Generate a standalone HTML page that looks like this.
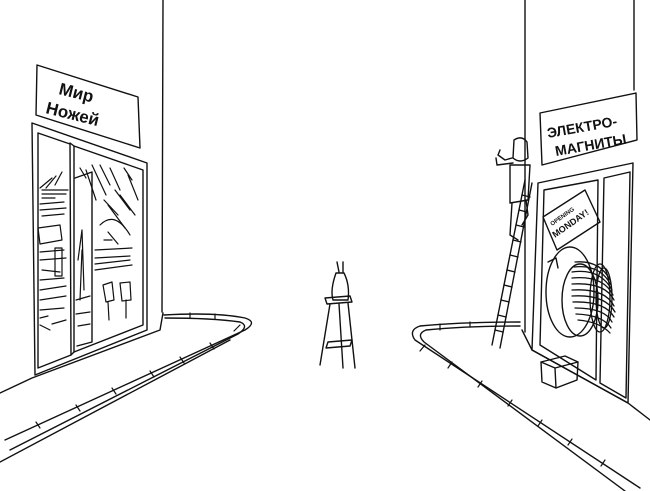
<!DOCTYPE html>
<html><head><meta charset="utf-8"><style>
html,body{margin:0;padding:0;background:#fff;width:650px;height:491px;overflow:hidden}
svg{display:block}
text{font-family:"Liberation Sans","DejaVu Sans",sans-serif;font-weight:bold;fill:#111}
</style></head><body>
<svg width="650" height="491" viewBox="0 0 650 491" xmlns="http://www.w3.org/2000/svg" fill="none" stroke="#111" stroke-width="1.4" stroke-linecap="round" stroke-linejoin="round">
<path d="M163 0 L162 312"/>
<path d="M0 393 L32 378 L160 330 L163 313"/>
<path d="M37 65 L138 97 L140 148 L36 115 Z"/>
<text x="58" y="94" font-size="17" stroke="none" transform="rotate(14 58 94)">Мир</text>
<text x="45" y="113" font-size="17" stroke="none" transform="rotate(14 45 113)">Ножей</text>
<path d="M32 123 L147 163 L147 330 L35 375 Z"/>
<path d="M38 133 L70 144 L71 355 L38 368 Z"/>
<path d="M74 146 L143 170 L143 325 L74 352 Z"/>
<path d="M70 143 L74 146 M71 355 L74 352"/>
<path d="M75 178 L92 172 L92 342 L77 346"/>
<g stroke-width="1.2">
<path d="M40 188 L52 178 M46 188 L56 176 M55 185 L62 172"/>
<path d="M42 190 L68 190 M42 198 L55 198 M42 194 L66 194"/>
<path d="M40 210 L66 208 M42 216 L64 214 M40 204 L64 202"/>
<path d="M38 228 L60 225 L62 240 L40 244 Z"/>
<path d="M40 260 L66 258 M42 270 L60 272 M40 252 L64 250"/>
<path d="M55 248 L55 276 L62 276 L62 248 Z"/>
<path d="M40 290 L66 286 M40 300 L66 296 M40 310 L64 308 M40 280 L64 278"/>
<path d="M40 325 L50 330 M52 324 L66 320 M40 318 L48 316"/>
<path d="M80 168 L86 178 M92 165 L106 195 M100 165 L110 185 M110 168 L120 190 M124 168 L132 180 M128 175 L138 200 M86 170 L96 200"/>
<path d="M115 190 L130 210 M120 195 L135 215 M108 205 L125 228 M104 200 L118 215"/>
<path d="M100 225 Q115 210 130 235 M104 240 L112 240 M108 232 L118 244"/>
<path d="M95 250 L132 248 M95 258 L130 256 M95 270 L132 265 M95 264 L130 260"/>
<path d="M78 260 L82 230 L84 290 M80 300 L82 250"/>
<path d="M103 285 L112 282 L114 300 L106 302 Z M120 283 L130 282 L131 300 L122 301 Z M108 302 L109 320 M126 300 L126 318"/>
<path d="M76 300 L90 296 M76 314 L90 312 M78 326 L90 324"/>
</g>
<!-- left curb -->
<path d="M164 315 Q215 312 245 318 Q258 322 245 330 L5 440"/>
<path d="M165 318 Q212 318 240 322 Q250 326 238 334 L10 450"/>
<path d="M0 462 L230 340"/>
<g stroke-width="1.2">
<path d="M190 313 L190 318 M215 314 L215 319 M240 325 L234 331 M210 343 L214 349 M180 357 L184 363 M150 371 L154 377 M112 388 L116 394 M76 405 L80 411 M36 422 L40 428"/>
</g>
<!-- RIGHT BUILDING -->
<path d="M525 0 L525 332"/>
<path d="M634 0 L634 90"/>
<path d="M522 330 L532 350 L628 403 L650 420"/>
<path d="M540 113 L636 93 L637 140 L542 165 Z"/>
<text x="548" y="138" font-size="14" stroke="none" transform="rotate(-10 548 138)">ЭЛЕКТРО-</text>
<text x="556" y="156" font-size="14" stroke="none" transform="rotate(-10 556 156)">МАГНИТЫ</text>
<path d="M538 183 L633 163 L628 403 L532 350 Z"/>
<path d="M544 190 L598 180 L596 380 L540 345 Z"/>
<path d="M604 178 L630 172 L626 398 L600 383 Z"/>
<path d="M543 217 L585 190 L600 222 L557 250 Z"/>
<text x="555" y="238" font-size="9" stroke="none" transform="rotate(-35 555 238)">MONDAY!</text>
<text x="552" y="226" font-size="6" stroke="none" transform="rotate(-35 552 226)">OPENING</text>
<ellipse cx="570" cy="292" rx="24" ry="45"/>
<ellipse cx="580" cy="300" rx="18" ry="36"/>
<g stroke-width="1.3">
<path d="M575 262 Q600 260 610 280 M572 272 Q600 268 612 290 M572 284 Q605 282 614 300 M572 296 Q605 294 615 312 M575 308 Q605 308 612 322 M578 320 Q600 322 610 333"/>
<path d="M574 267 Q600 264 611 285 M572 278 Q603 275 613 295 M572 290 Q605 288 614 306 M573 302 Q605 301 614 317 M576 314 Q603 315 611 328"/>
<ellipse cx="600" cy="298" rx="10" ry="34"/>
<ellipse cx="604" cy="298" rx="8" ry="30"/>
</g>
<path d="M548 262 L556 258 L558 268"/>
<path d="M541 362 L565 356 L578 362 L555 368 Z M541 362 L542 382 L556 388 L555 368 M556 388 L577 380 L578 362"/>
<!-- ladder -->
<path d="M492 345 L525 180 M500 348 L532 183"/>
<path d="M495 330 L503 332 M498 315 L506 317 M501 300 L509 302 M504 285 L512 287 M507 270 L515 272 M510 255 L518 257 M513 240 L521 242 M516 225 L524 227 M519 210 L527 212 M522 195 L530 197"/>
<!-- man -->
<path d="M514 140 Q522 135 527 142 L528 158 Q520 164 513 158 Z"/>
<path d="M512 158 L505 160 L498 155 L500 150 M513 163 L497 165 L496 158"/>
<path d="M510 165 L530 165 L528 200 L510 203 Z"/>
<path d="M512 203 L510 235 L518 240 M526 200 L528 215 L522 225"/>
<!-- right curb -->
<path d="M520 322 Q460 322 420 326 Q408 330 415 340 L640 488"/>
<path d="M520 326 Q465 326 426 330 Q416 334 424 342 L625 491"/>
<g stroke-width="1.2">
<path d="M440 324 L440 330 M470 322 L470 327 M425 345 L420 351 M452 362 L448 368 M482 381 L478 387 M512 400 L508 406 M542 420 L538 426 M572 439 L568 445 M605 460 L601 466"/>
</g>
<!-- bunny & stool -->
<path d="M337 262 L339 272 M343 262 L343 272 M336 273 Q330 290 333 300 L348 300 Q350 285 344 273 Z"/>
<path d="M325 298 L350 296 L352 302 L327 304 Z"/>
<path d="M330 304 L320 365 M348 303 L355 368 M339 304 L343 368"/>
<path d="M328 342 L352 340 L350 346 L326 348 Z"/>
</svg>
</body></html>
